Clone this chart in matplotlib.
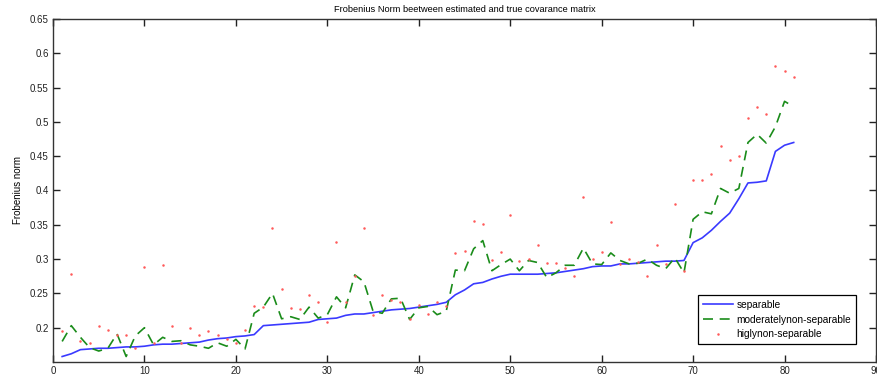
import numpy as np
import matplotlib
matplotlib.use("Agg")
import matplotlib.pyplot as plt

plt.rcParams['font.family'] = ['Liberation Sans', 'DejaVu Sans']

trial = list(range(1, 82))

separable = [
    0.158, 0.162, 0.168, 0.169, 0.170, 0.170, 0.171, 0.172, 0.172, 0.173,
    0.175, 0.176, 0.176, 0.177, 0.178, 0.179, 0.182, 0.184, 0.185, 0.187,
    0.188, 0.190, 0.203, 0.204, 0.205, 0.206, 0.207, 0.208, 0.212, 0.213,
    0.214, 0.218, 0.220, 0.220, 0.222, 0.224, 0.226, 0.227, 0.228, 0.230,
    0.232, 0.234, 0.237, 0.248, 0.255, 0.264, 0.266, 0.271, 0.275, 0.278,
    0.278, 0.278, 0.278, 0.279, 0.280, 0.282, 0.284, 0.286, 0.289, 0.290,
    0.290, 0.293, 0.293, 0.294, 0.295, 0.296, 0.297, 0.297, 0.298, 0.324,
    0.331, 0.342, 0.355, 0.367, 0.388, 0.411, 0.412, 0.414, 0.457, 0.466,
    0.470,
]

moderately = [
    0.180, 0.203, 0.186, 0.171, 0.166, 0.170, 0.191, 0.158, 0.188, 0.200,
    0.175, 0.186, 0.180, 0.181, 0.175, 0.173, 0.170, 0.178, 0.173, 0.183,
    0.169, 0.221, 0.230, 0.250, 0.213, 0.216, 0.212, 0.230, 0.214, 0.219,
    0.245, 0.229, 0.277, 0.267, 0.224, 0.221, 0.242, 0.243, 0.212, 0.229,
    0.231, 0.219, 0.224, 0.284, 0.283, 0.315, 0.327, 0.283, 0.292, 0.300,
    0.283, 0.298, 0.295, 0.273, 0.280, 0.291, 0.291, 0.316, 0.293, 0.292,
    0.309, 0.298, 0.293, 0.294, 0.300, 0.291, 0.286, 0.302, 0.280, 0.358,
    0.369, 0.366, 0.403, 0.396, 0.403, 0.470, 0.482, 0.469, 0.493, 0.530,
    0.522,
]

highly = [
    0.195, 0.279, 0.180, 0.178, 0.203, 0.197, 0.189, 0.189, 0.170, 0.289,
    0.177, 0.291, 0.202, 0.177, 0.200, 0.189, 0.195, 0.189, 0.183, 0.177,
    0.197, 0.231, 0.230, 0.346, 0.256, 0.228, 0.227, 0.248, 0.237, 0.209,
    0.325, 0.237, 0.276, 0.346, 0.218, 0.247, 0.241, 0.237, 0.212, 0.233,
    0.220, 0.237, 0.231, 0.309, 0.312, 0.355, 0.351, 0.298, 0.310, 0.364,
    0.297, 0.300, 0.320, 0.294, 0.294, 0.287, 0.275, 0.390, 0.300, 0.310,
    0.354, 0.293, 0.300, 0.296, 0.275, 0.320, 0.293, 0.380, 0.282, 0.416,
    0.415, 0.424, 0.465, 0.444, 0.450, 0.506, 0.521, 0.512, 0.582, 0.574,
    0.566,
]

labels = ["separable", "moderatelynon-separable", "higlynon-separable"]

fig = plt.figure(figsize=(8.78, 3.81), dpi=100)
ax = fig.add_axes([53 / 878, 19 / 381, 823 / 878, 343 / 381])

ax.plot(trial, separable, color='#3a3aff', lw=1.2, label=labels[0])
ax.plot(trial, moderately, color='#1a8c1a', lw=1.2, ls=(0, (6, 4)), label=labels[1])
ax.plot(trial, highly, ls='none', marker='.', ms=1.6, color='#ff5a5a', label=labels[2])

ax.set_xlim(0, 90)
ax.set_ylim(0.15, 0.65)
ax.set_xticks(range(0, 91, 10))
ax.set_yticks([0.2, 0.25, 0.3, 0.35, 0.4, 0.45, 0.5, 0.55, 0.6, 0.65])
ax.set_yticklabels(['0.2', '0.25', '0.3', '0.35', '0.4', '0.45', '0.5', '0.55', '0.6', '0.65'])
ax.tick_params(direction='in', length=5, width=1, top=True, right=True,
               labelsize=7, colors='#222222', pad=3)
for s in ax.spines.values():
    s.set_color('#333333')
    s.set_linewidth(1)

ax.set_title("Frobenius Norm beetween estimated and true covarance matrix",
             fontsize=6.7, pad=5)
ax.set_ylabel("Frobenius norm", fontsize=7, labelpad=5)

leg = ax.legend(loc='lower right', bbox_to_anchor=(0.976, 0.052),
                borderaxespad=0, fontsize=7.3, handlelength=3.0,
                labelspacing=0.45, fancybox=False, framealpha=1,
                edgecolor='black', borderpad=0.5, handletextpad=0.3)
leg.get_frame().set_linewidth(0.9)

fig.savefig("out.png", dpi=100)
